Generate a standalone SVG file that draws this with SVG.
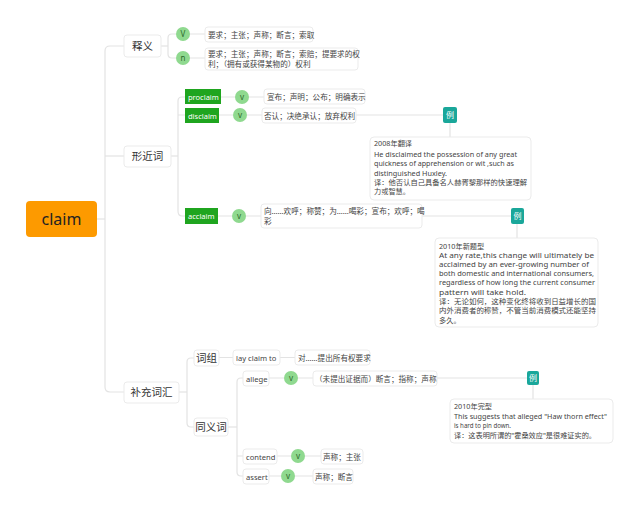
<svg xmlns="http://www.w3.org/2000/svg" width="640" height="510" viewBox="0 0 640 510">
<style>
text{font-family:"Noto Sans","Noto Sans CJK SC",sans-serif;}
.ln{fill:none;stroke:#e3e3e3;stroke-width:1.2;}
.box{fill:#fff;stroke:#ebebeb;stroke-width:1;}
.lbl{font-size:10.5px;fill:#333;text-anchor:middle;}
.t{font-size:7.6px;fill:#444;}
.n{font-size:7.2px;fill:#444;}
.g{fill:#1fa51f;}
.gt{font-size:7.5px;fill:#fff;}
.v{fill:#8fd98f;}
.vt{font-size:8px;fill:#2b6b2b;text-anchor:middle;}
.ex{fill:#1aa79a;}
.ext{font-size:8px;fill:#fff;text-anchor:middle;}
</style>
<rect width="640" height="510" fill="#fff"/>
<g id="connectors">
<path class="ln" d="M97,219 H105"/>
<path class="ln" d="M124,46 H110 Q105,46 105,51 V387 Q105,392 110,392 H124"/>
<path class="ln" d="M105,156 H124"/>
<path class="ln" d="M161,46 H168"/>
<path class="ln" d="M176,34 H172 Q168,34 168,38 V54 Q168,58 172,58 H176"/>
<path class="ln" d="M190,34 H205 M190,58 H205"/>
<path class="ln" d="M171,156 H178"/>
<path class="ln" d="M185,97 H182 Q178,97 178,101 V211 Q178,216 182,216 H185 M178,115 H185"/>
<path class="ln" d="M221,97 H235 M249,97 H264"/>
<path class="ln" d="M219,115 H233 M247,115 H262"/>
<path class="ln" d="M218,216 H232 M246,216 H261"/>
<path class="ln" d="M356,115 H444 M450,123 V137"/>
<path class="ln" d="M422,216 H511 M517,223 V238"/>
<path class="ln" d="M179,392 H187"/>
<path class="ln" d="M194,358 H191 Q187,358 187,362 V423 Q187,427 191,427 H194"/>
<path class="ln" d="M219,357.5 H233 M280,357.5 H295"/>
<path class="ln" d="M228,427 H237"/>
<path class="ln" d="M243,378 H241 Q237,378 237,382 V472 Q237,476 241,476 H243 M237,456 H243"/>
<path class="ln" d="M269,378 H284 M298,378 H313"/>
<path class="ln" d="M277,456 H291 M305,456 H321"/>
<path class="ln" d="M269,476 H281 M295,476 H313"/>
<path class="ln" d="M437,378 H527 M533,384 V399"/>
</g>
<g id="root">
<rect x="26" y="201" width="71" height="36" rx="4" fill="#fd9a00"/>
<text x="61.5" y="224.5" font-size="16" fill="#222" text-anchor="middle">claim</text>
</g>
<g id="shiyi">
<rect class="box" x="124" y="35" width="37" height="22" rx="3"/>
<text class="lbl" x="142.5" y="50">释义</text>
</g>
<g id="shiyi-v">
<circle class="v" cx="183" cy="34" r="7"/><text class="vt" x="183" y="37">V</text>
<rect class="box" x="205" y="27" width="108" height="15" rx="3"/>
<text class="t" x="208" y="37.5">要求；主张；声称；断言；索取</text>
</g>
<g id="shiyi-n">
<circle class="v" cx="183" cy="58" r="7"/><text class="vt" x="183" y="61">n</text>
<rect class="box" x="205" y="48" width="153" height="22" rx="3"/>
<text class="t" x="208" y="57">要求；主张；声称；断言；索赔；提要求的权</text>
<text class="t" x="208" y="66.5">利；（拥有或获得某物的）权利</text>
</g>
<g id="xingjinci">
<rect class="box" x="124" y="146" width="47" height="21" rx="3"/>
<text class="lbl" x="147.5" y="160">形近词</text>
</g>
<g id="proclaim">
<rect class="g" x="185" y="89" width="36" height="15"/>
<text class="gt" x="188" y="99.5">proclaim</text>
<circle class="v" cx="242" cy="97" r="7"/><text class="vt" x="242" y="100">v</text>
<rect class="box" x="264" y="89" width="101" height="15" rx="3"/>
<text class="t" x="267" y="99.5">宣布；声明；公布；明确表示</text>
</g>
<g id="disclaim">
<rect class="g" x="185" y="108" width="34" height="15"/>
<text class="gt" x="188" y="118.5">disclaim</text>
<circle class="v" cx="240" cy="115" r="7"/><text class="vt" x="240" y="118">v</text>
<rect class="box" x="262" y="108" width="94" height="15" rx="3"/>
<text class="t" x="264" y="118.5">否认；决绝承认；放弃权利</text>
</g>
<g id="ex1">
<rect class="ex" x="443" y="107" width="14" height="16" rx="2"/>
<text class="ext" x="450" y="118">例</text>
<rect class="box" x="370" y="137" width="161" height="63" rx="4"/>
<text class="n" x="374" y="146">2008年翻译</text>
<text class="n" x="374" y="156.5" textLength="143" lengthAdjust="spacingAndGlyphs">He disclaimed the possession of any great</text>
<text class="n" x="374" y="166" textLength="140" lengthAdjust="spacingAndGlyphs">quickness of apprehension or wit ,such as</text>
<text class="n" x="374" y="175.5" textLength="73" lengthAdjust="spacingAndGlyphs">distinguished Huxley.</text>
<text class="n" x="374" y="185" textLength="153" lengthAdjust="spacingAndGlyphs">译：他否认自己具备名人赫胥黎那样的快速理解</text>
<text class="n" x="374" y="194">力或智慧。</text>
</g>
<g id="acclaim">
<rect class="g" x="185" y="208" width="33" height="16"/>
<text class="gt" x="188" y="219">acclaim</text>
<circle class="v" cx="239" cy="216" r="7"/><text class="vt" x="239" y="219">v</text>
<rect class="box" x="261" y="204" width="161" height="24" rx="3"/>
<text class="t" x="264" y="214">向……欢呼；称赞；为……喝彩；宣布；欢呼；喝</text>
<text class="t" x="264" y="223.5">彩</text>
</g>
<g id="ex2">
<rect class="ex" x="511" y="208" width="13" height="16" rx="2"/>
<text class="ext" x="517.5" y="219">例</text>
<rect class="box" x="435" y="238" width="163" height="89" rx="4"/>
<text class="n" x="439" y="248.5">2010年新题型</text>
<text class="n" x="439" y="257.5" textLength="155" lengthAdjust="spacingAndGlyphs">At any rate,this change will ultimately be</text>
<text class="n" x="439" y="266.5" textLength="150" lengthAdjust="spacingAndGlyphs">acclaimed by an ever-growing number of</text>
<text class="n" x="439" y="275.5" textLength="155" lengthAdjust="spacingAndGlyphs">both domestic and international consumers,</text>
<text class="n" x="439" y="285" textLength="156" lengthAdjust="spacingAndGlyphs">regardless of how long the current consumer</text>
<text class="n" x="439" y="294.5" textLength="87" lengthAdjust="spacingAndGlyphs">pattern will take hold.</text>
<text class="n" x="439" y="303.5" textLength="157" lengthAdjust="spacingAndGlyphs">译：无论如何，这种变化终将收到日益增长的国</text>
<text class="n" x="439" y="313" textLength="157" lengthAdjust="spacingAndGlyphs">内外消费者的称赞，不管当前消费模式还能坚持</text>
<text class="n" x="439" y="322.5">多久。</text>
</g>
<g id="buchong">
<rect class="box" x="124" y="382" width="55" height="21" rx="3"/>
<text class="lbl" x="151.5" y="396">补充词汇</text>
</g>
<g id="cizu">
<rect class="box" x="194" y="350" width="25" height="16" rx="3"/>
<text class="lbl" x="206.5" y="361.5">词组</text>
</g>
<g id="laycl">
<rect class="box" x="233" y="350" width="47" height="15" rx="3"/>
<text class="t" x="236" y="360.5">lay claim to</text>
<rect class="box" x="295" y="350" width="75" height="15" rx="3"/>
<text class="t" x="298" y="360.5">对……提出所有权要求</text>
</g>
<g id="tongyi">
<rect class="box" x="194" y="418" width="34" height="18" rx="3"/>
<text class="lbl" x="211" y="431">同义词</text>
</g>
<g id="allege">
<rect class="box" x="243" y="371" width="26" height="15" rx="3"/>
<text class="t" x="246" y="381.5">allege</text>
<circle class="v" cx="291" cy="378" r="7"/><text class="vt" x="291" y="381">v</text>
<rect class="box" x="313" y="371" width="124" height="15" rx="3"/>
<text class="t" x="315" y="381.5">（未提出证据而）断言；指称；声称</text>
</g>
<g id="ex3">
<rect class="ex" x="527" y="371" width="12" height="14" rx="2"/>
<text class="ext" x="533" y="381">例</text>
<rect class="box" x="450" y="399" width="163" height="44" rx="4"/>
<text class="n" x="454" y="409">2010年完型</text>
<text class="n" x="454" y="418.5" textLength="153" lengthAdjust="spacingAndGlyphs">This suggests that alleged "Haw thorn effect"</text>
<text class="n" x="454" y="428" textLength="57" lengthAdjust="spacingAndGlyphs">is hard to pin down.</text>
<text class="n" x="454" y="437.5" textLength="142" lengthAdjust="spacingAndGlyphs">译：这表明所谓的"霍桑效应"是很难证实的。</text>
</g>
<g id="contend">
<rect class="box" x="243" y="449" width="34" height="15" rx="3"/>
<text class="t" x="246" y="459.5">contend</text>
<circle class="v" cx="298" cy="456" r="7"/><text class="vt" x="298" y="459">v</text>
<rect class="box" x="321" y="449" width="42" height="15" rx="3"/>
<text class="t" x="323" y="459.5">声称；主张</text>
</g>
<g id="assert">
<rect class="box" x="243" y="469" width="26" height="15" rx="3"/>
<text class="t" x="246" y="479.5">assert</text>
<circle class="v" cx="288" cy="476" r="7"/><text class="vt" x="288" y="479">v</text>
<rect class="box" x="313" y="469" width="40" height="15" rx="3"/>
<text class="t" x="315" y="479.5">声称；断言</text>
</g>
</svg>
